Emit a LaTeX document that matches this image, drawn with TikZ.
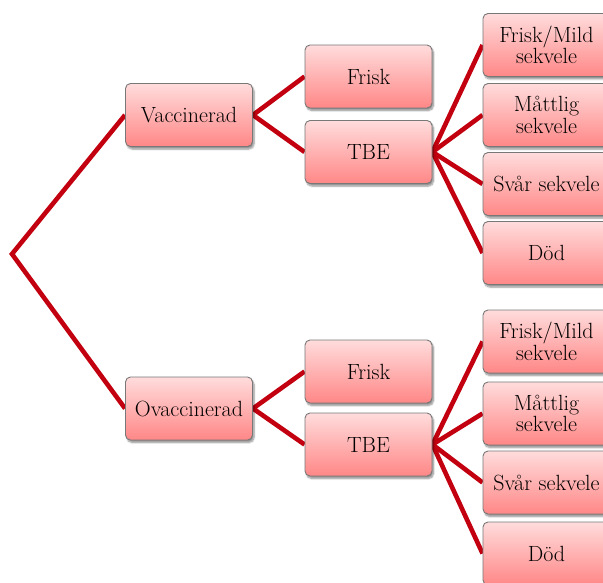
\documentclass[tikz,border=0pt]{standalone}
\usepackage{fontspec}
\usetikzlibrary{shadows.blur,backgrounds}
\definecolor{linered}{RGB}{195,0,15}
\definecolor{boxtop}{RGB}{255,220,220}
\definecolor{boxbot}{RGB}{255,135,135}
\definecolor{boxedge}{RGB}{120,120,120}
\tikzset{
  leaf/.style={draw=boxedge, line width=0.9pt, rounded corners=5pt,
    top color=boxtop, bottom color=boxbot,
    minimum width=127pt, minimum height=63pt, inner sep=0pt, align=center,
    font=\rmfamily\fontsize{22}{21.5}\selectfont,
    blur shadow={shadow xshift=1.5pt, shadow yshift=-2.5pt, shadow blur steps=6, shadow opacity=45}},
  branch/.style={draw=linered, line width=4.6pt}
}
\begin{document}
\begin{tikzpicture}[x=1pt,y=-1pt]
\useasboundingbox (0,0) rectangle (603,583);
\coordinate (root) at (12,254);
\node[leaf] (vac) at (189,115) {Vaccinerad};
\node[leaf] (vfrisk) at (368.5,76.5) {Frisk};
\node[leaf] (vtbe) at (368.5,152) {TBE};
\node[leaf] (v1) at (546.5,45) {Frisk/Mild\\sekvele};
\node[leaf] (v2) at (546.5,115) {Måttlig\\sekvele};
\node[leaf] (v3) at (546.5,184) {Svår sekvele};
\node[leaf] (v4) at (546.5,253) {Död};
\node[leaf] (ovac) at (189,408.5) {Ovaccinerad};
\node[leaf] (ofrisk) at (368.5,371.5) {Frisk};
\node[leaf] (otbe) at (368.5,444.5) {TBE};
\node[leaf] (o1) at (546.5,341.5) {Frisk/Mild\\sekvele};
\node[leaf] (o2) at (546.5,413.5) {Måttlig\\sekvele};
\node[leaf] (o3) at (546.5,482.5) {Svår sekvele};
\node[leaf] (o4) at (546.5,553.5) {Död};
\begin{scope}[on background layer]
\draw[branch] (vac.west) -- (root) -- (ovac.west);
\draw[branch] (vfrisk.west) -- (vac.east) -- (vtbe.west);
\draw[branch] (ofrisk.west) -- (ovac.east) -- (otbe.west);
\foreach \n in {v1,v2,v3,v4} \draw[branch] (vtbe.east) -- (\n.west);
\foreach \n in {o1,o2,o3,o4} \draw[branch] (otbe.east) -- (\n.west);
\end{scope}
\end{tikzpicture}
\end{document}
